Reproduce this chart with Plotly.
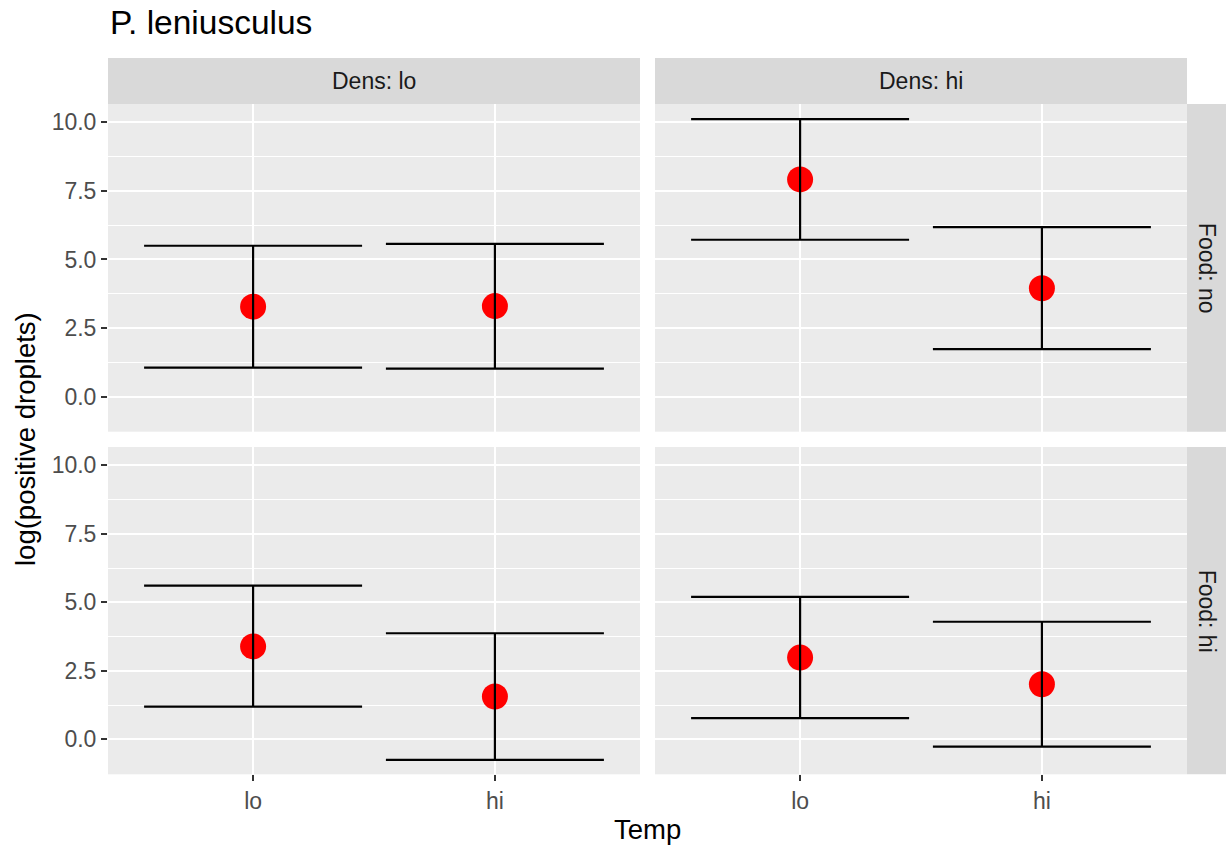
import plotly.graph_objects as go

W, H = 1226, 846

temp = ["lo", "hi"]
temp_pos = [1, 2]

# Dens: lo, Food: no
dlo_fno_mean = [3.28, 3.30]
dlo_fno_lower = [1.06, 1.02]
dlo_fno_upper = [5.50, 5.57]
# Dens: hi, Food: no
dhi_fno_mean = [7.92, 3.95]
dhi_fno_lower = [5.72, 1.73]
dhi_fno_upper = [10.12, 6.18]
# Dens: lo, Food: hi
dlo_fhi_mean = [3.39, 1.56]
dlo_fhi_lower = [1.19, -0.75]
dlo_fhi_upper = [5.61, 3.87]
# Dens: hi, Food: hi
dhi_fhi_mean = [2.98, 2.01]
dhi_fhi_lower = [0.77, -0.27]
dhi_fhi_upper = [5.20, 4.29]

dens_labels = ["Dens: lo", "Dens: hi"]
food_labels = ["Food: no", "Food: hi"]
y_tickvals = [0.0, 2.5, 5.0, 7.5, 10.0]
y_ticktext = ["0.0", "2.5", "5.0", "7.5", "10.0"]

panels = [
    ("x", "y", dlo_fno_mean, dlo_fno_lower, dlo_fno_upper),
    ("x2", "y2", dhi_fno_mean, dhi_fno_lower, dhi_fno_upper),
    ("x3", "y3", dlo_fhi_mean, dlo_fhi_lower, dlo_fhi_upper),
    ("x4", "y4", dhi_fhi_mean, dhi_fhi_lower, dhi_fhi_upper),
]

FONT = "Liberation Sans, Arial, sans-serif"

fig = go.Figure()
for xa, ya, m, lo, up in panels:
    fig.add_trace(go.Scatter(
        x=temp_pos, y=m, xaxis=xa, yaxis=ya, mode="markers",
        marker=dict(color="#FF0000", size=26, line=dict(width=0)),
        showlegend=False, hoverinfo="skip"))
    fig.add_trace(go.Scatter(
        x=temp_pos, y=m, xaxis=xa, yaxis=ya, mode="markers",
        marker=dict(color="rgba(0,0,0,0)", size=1),
        error_y=dict(type="data", symmetric=False,
                     array=[u - v for u, v in zip(up, m)],
                     arrayminus=[v - l for v, l in zip(m, lo)],
                     color="black", thickness=2.2, width=109),
        showlegend=False, hoverinfo="skip"))

# panel geometry in pixels
colx = [(108, 640), (655, 1187)]
rowy = [(104, 431.7), (447, 774.3)]

def px(v):
    return v / W

def py(v):
    return 1 - v / H

layout = dict(
    width=W, height=H, margin=dict(l=0, r=0, t=0, b=0),
    paper_bgcolor="white", plot_bgcolor="#EBEBEB",
    font=dict(family=FONT, color="#1A1A1A"),
    showlegend=False,
)

axis_names = [("xaxis", "yaxis", 0, 0), ("xaxis2", "yaxis2", 1, 0),
              ("xaxis3", "yaxis3", 0, 1), ("xaxis4", "yaxis4", 1, 1)]
for i, (xn, yn, c, r) in enumerate(axis_names):
    anchor_x = "y" if i == 0 else "y%d" % (i + 1)
    anchor_y = "x" if i == 0 else "x%d" % (i + 1)
    show_x = r == 1
    show_y = c == 0
    layout[xn] = dict(
        domain=[px(colx[c][0]), px(colx[c][1])], anchor=anchor_x,
        range=[0.4, 2.6], tickvals=temp_pos, ticktext=temp,
        showgrid=True, gridcolor="white", gridwidth=2.2, zeroline=False,
        showline=False, showticklabels=show_x,
        ticks="outside" if show_x else "", ticklen=6, tickwidth=2, tickcolor="#333333",
        tickfont=dict(size=23, color="#4D4D4D", family=FONT),
    )
    layout[yn] = dict(
        domain=[py(rowy[r][1]), py(rowy[r][0])], anchor=anchor_y,
        range=[-1.28, 10.67], tickvals=y_tickvals, ticktext=y_ticktext,
        showgrid=True, gridcolor="white", gridwidth=2.2, zeroline=False,
        showline=False, showticklabels=show_y,
        ticks="outside" if show_y else "", ticklen=6, tickwidth=2, tickcolor="#333333",
        tickfont=dict(size=23, color="#4D4D4D", family=FONT),
        minor=dict(tickvals=[-1.25, 1.25, 3.75, 6.25, 8.75], showgrid=True,
                   gridcolor="white", gridwidth=1.1, ticks=""),
    )

shapes = []
annotations = []
# top strips
for c in range(2):
    shapes.append(dict(type="rect", xref="paper", yref="paper",
                       x0=px(colx[c][0]), x1=px(colx[c][1]), y0=py(104), y1=py(58),
                       fillcolor="#D9D9D9", line=dict(width=0), layer="below"))
    annotations.append(dict(text=dens_labels[c], xref="paper", yref="paper",
                            x=px((colx[c][0] + colx[c][1]) / 2), y=py(81),
                            xanchor="center", yanchor="middle", showarrow=False,
                            font=dict(size=23, color="#1A1A1A", family=FONT)))
# right strips
for r in range(2):
    shapes.append(dict(type="rect", xref="paper", yref="paper",
                       x0=px(1187), x1=px(1226), y0=py(rowy[r][1]), y1=py(rowy[r][0]),
                       fillcolor="#D9D9D9", line=dict(width=0), layer="below"))
    annotations.append(dict(text=food_labels[r], xref="paper", yref="paper",
                            x=px(1207), y=py((rowy[r][0] + rowy[r][1]) / 2),
                            xanchor="center", yanchor="middle", showarrow=False,
                            textangle=90,
                            font=dict(size=23, color="#1A1A1A", family=FONT)))

# title & axis titles
annotations.append(dict(text="P. leniusculus", xref="paper", yref="paper",
                        x=px(108), y=py(22), xanchor="left", yanchor="middle",
                        showarrow=False, font=dict(size=33.5, color="black", family=FONT)))
annotations.append(dict(text="log(positive droplets)", xref="paper", yref="paper",
                        x=px(25), y=py(439), xanchor="center", yanchor="middle",
                        showarrow=False, textangle=-90,
                        font=dict(size=27.5, color="black", family=FONT)))
annotations.append(dict(text="Temp", xref="paper", yref="paper",
                        x=px(647.5), y=py(829), xanchor="center", yanchor="middle",
                        showarrow=False, font=dict(size=27.5, color="black", family=FONT)))

layout["shapes"] = shapes
layout["annotations"] = annotations
fig.update_layout(**layout)
fig.write_html("out.html")
